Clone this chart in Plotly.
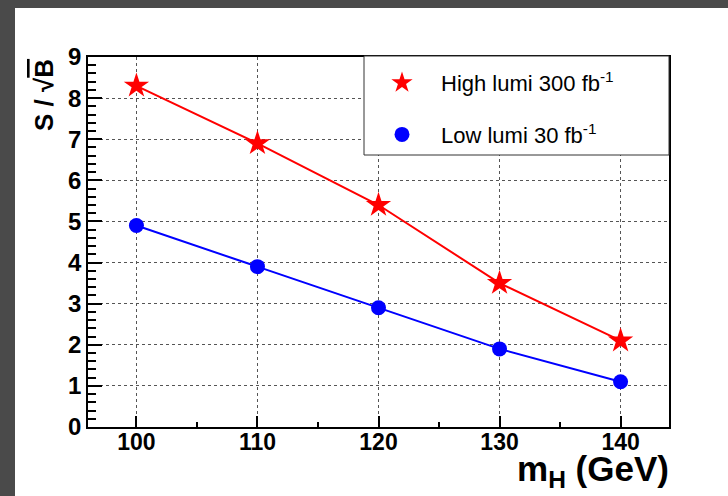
import plotly.graph_objects as go

mass = [100, 110, 120, 130, 140]
high_lumi = [8.3, 6.9, 5.4, 3.5, 2.1]
low_lumi = [4.9, 3.9, 2.9, 1.9, 1.1]
high_label = "High lumi 300 fb<sup>-1</sup>"
low_label = "Low lumi 30 fb<sup>-1</sup>"
x_ticks = [100, 110, 120, 130, 140]
y_ticks = [0, 1, 2, 3, 4, 5, 6, 7, 8, 9]

FONT = "Liberation Sans, Arial, Helvetica, sans-serif"
W, H = 728, 496
L, R, T, B = 88, 59, 57, 69
pw, ph = W - L - R, H - T - B

def px_x(p):
    return (p - L) / pw

def px_y(p):
    return (H - B - p) / ph

fig = go.Figure()

fig.add_trace(go.Scatter(x=mass, y=high_lumi, mode="lines+markers",
                         line=dict(color="#ff0000", width=2),
                         marker=dict(symbol="star", size=19, color="#ff0000"),
                         showlegend=False))
fig.add_trace(go.Scatter(x=mass, y=low_lumi, mode="lines+markers",
                         line=dict(color="#0000ff", width=2),
                         marker=dict(symbol="circle", size=15, color="#0000ff"),
                         showlegend=False))
# legend entries (marker only)
fig.add_trace(go.Scatter(x=[None], y=[None], mode="markers", name=high_label,
                         marker=dict(symbol="star", size=18, color="#ff0000"),
                         legendgroup="a"))
fig.add_trace(go.Scatter(x=[None], y=[None], mode="markers", name=low_label,
                         marker=dict(symbol="circle", size=15, color="#0000ff"),
                         legendgroup="b"))

DARK = "#4a4a4a"
shapes = [
    # dark frame strips (top and left)
    dict(type="rect", xref="paper", yref="paper", layer="below",
         x0=px_x(0), x1=px_x(728), y0=px_y(8), y1=px_y(0),
         fillcolor=DARK, line=dict(width=0)),
    dict(type="rect", xref="paper", yref="paper", layer="below",
         x0=px_x(0), x1=px_x(15), y0=px_y(496), y1=px_y(8),
         fillcolor=DARK, line=dict(width=0)),
    # legend box
    dict(type="rect", xref="paper", yref="paper", layer="above",
         x0=px_x(364), x1=1, y0=px_y(155), y1=px_y(56),
         fillcolor="white", line=dict(color="#333333", width=1)),
]

annotations = [
    dict(text="<b>S / √<span style='text-decoration:overline'>B</span></b>",
         xref="paper", yref="paper", x=px_x(44), y=1.0,
         xanchor="center", yanchor="top", textangle=-90, showarrow=False,
         font=dict(family=FONT, size=26, color="black")),
    dict(text="<b>m<sub>H</sub> (GeV)</b>",
         xref="paper", yref="paper", x=px_x(671), y=px_y(495),
         xanchor="right", yanchor="bottom", showarrow=False,
         font=dict(family=FONT, size=35, color="black")),
]

fig.update_layout(
    width=W, height=H,
    margin=dict(l=L, r=R, t=T, b=B),
    paper_bgcolor="white",
    plot_bgcolor="white",
    font=dict(family=FONT, color="black"),
    shapes=shapes,
    annotations=annotations,
    legend=dict(x=px_x(363), y=px_y(62), xanchor="left", yanchor="top",
                bgcolor="rgba(0,0,0,0)", borderwidth=0,
                font=dict(family=FONT, size=22, color="black"),
                tracegroupgap=20, itemwidth=68),
)

fig.update_xaxes(range=[96, 144], tickvals=x_ticks,
                 ticks="inside", ticklen=11, tickwidth=1.5, tickcolor="black",
                 minor=dict(dtick=5, tick0=0, ticks="inside", ticklen=5,
                            tickcolor="black", showgrid=False),
                 showgrid=True, gridcolor="#555555", griddash="dot", gridwidth=1,
                 showline=True, linecolor="black", linewidth=1.5, mirror=True,
                 zeroline=False, ticklabelstandoff=-6,
                 tickfont=dict(family=FONT, size=23, color="black", weight="bold"))
fig.update_yaxes(range=[0, 9], tickvals=y_ticks,
                 ticks="inside", ticklen=14, tickwidth=1.5, tickcolor="black",
                 minor=dict(dtick=0.2, tick0=0, ticks="inside", ticklen=8,
                            tickcolor="black", showgrid=False),
                 showgrid=True, gridcolor="#555555", griddash="dot", gridwidth=1,
                 showline=True, linecolor="black", linewidth=1.5, mirror=True,
                 zeroline=False,
                 tickfont=dict(family=FONT, size=24, color="black", weight="bold"))

fig.write_html("out.html", config={"displayModeBar": False})
